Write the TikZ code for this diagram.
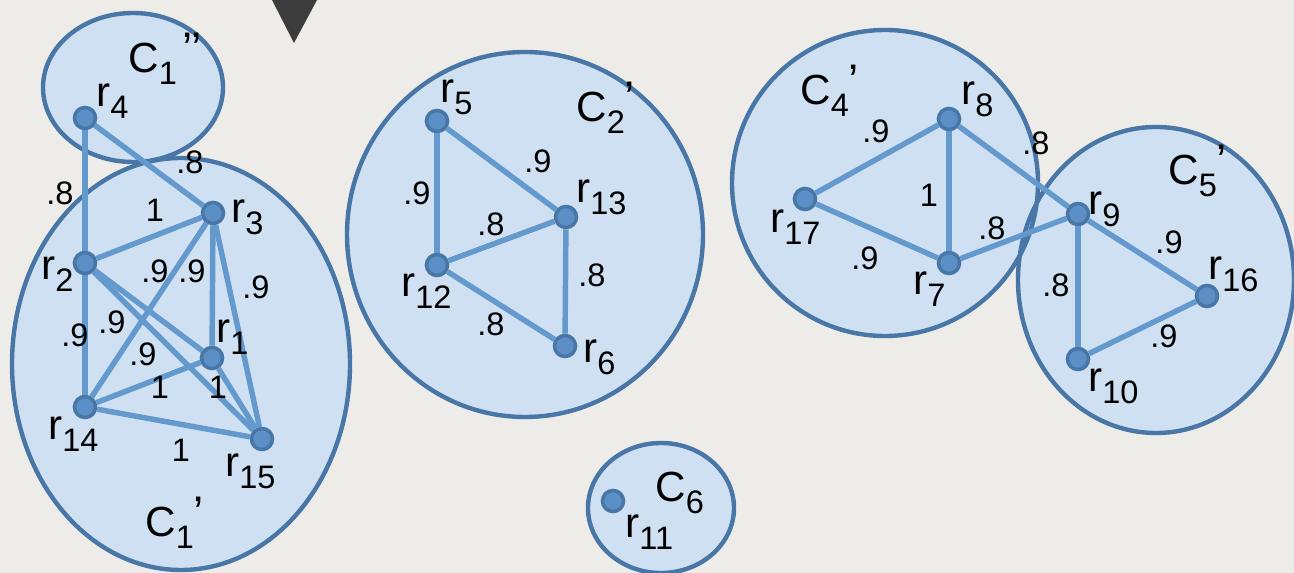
\documentclass[tikz,border=0pt]{standalone}
\usepackage{fontspec}
\setmainfont{Liberation Sans}
\usepackage{xcolor}
\usepackage{tikz}
\usetikzlibrary{positioning}
\definecolor{mypaper}{RGB}{238,236,233}
\definecolor{myfill}{RGB}{207,224,242}
\definecolor{myborder}{RGB}{72,118,166}
\definecolor{myedge}{RGB}{99,153,205}
\definecolor{mydot}{RGB}{91,143,198}
\definecolor{mydark}{RGB}{60,60,60}
\newcommand{\lblfont}{\fontsize{24}{28}\selectfont}
\newcommand{\subfnt}{\fontsize{18.5}{21}\selectfont}
\newcommand{\primefnt}{\fontsize{26}{30}\selectfont}
\newcommand{\wfont}{\fontsize{18.5}{21}\selectfont}
\newcommand{\rlab}[1]{r\raisebox{-6.8pt}{\subfnt #1}}
\newcommand{\clab}[3][0pt]{C\raisebox{-6.8pt}{\subfnt #2}\hspace{#1}\raisebox{5pt}{\primefnt #3}}
\tikzset{
  cluster/.style={fill=myfill},
  clusterline/.style={draw=myborder, line width=2.5pt},
  rdot/.style={circle, fill=mydot, draw=myborder, line width=2pt,
    minimum size=12pt, inner sep=0pt},
  edge/.style={draw=myedge, line width=3.1pt},
  rname/.style={anchor=base west, inner sep=0pt, font=\lblfont},
  cname/.style={anchor=base west, inner sep=0pt, font=\lblfont},
  weight/.style={inner sep=0pt, font=\wfont}
}

\begin{document}
\begin{tikzpicture}[x=0.02cm, y=-0.02cm]
  % Paper
  \useasboundingbox (0,0) rectangle (1294,573);
  \fill[mypaper] (0,0) rectangle (1294,573);
  \fill[mydark] (272,0) -- (317,0) -- (294,43) -- cycle;

  % Clusters (fills first, borders after)
  \fill[cluster] (133,87.5) ellipse [x radius=90, y radius=74.5];
  \fill[cluster] (181,364) ellipse [x radius=169, y radius=206];
  \fill[cluster] (525,234.5) ellipse [x radius=178, y radius=182.5];
  \fill[cluster] (885,183) ellipse [x radius=153, y radius=153];
  \fill[cluster] (1156,280) ellipse [x radius=138, y radius=153];
  \fill[cluster] (661,508) ellipse [x radius=73, y radius=65];
  \draw[clusterline] (133,87.5) ellipse [x radius=90, y radius=74.5];
  \draw[clusterline] (181,364) ellipse [x radius=169, y radius=206];
  \draw[clusterline] (525,234.5) ellipse [x radius=178, y radius=182.5];
  \draw[clusterline] (885,183) ellipse [x radius=153, y radius=153];
  \draw[clusterline] (1156,280) ellipse [x radius=138, y radius=153];
  \draw[clusterline] (661,508) ellipse [x radius=73, y radius=65];

  % Points
  \node[rdot] (r4) at (85,118) {};
  \node[rdot] (r3) at (213,213) {};
  \node[rdot] (r2) at (85,263) {};
  \node[rdot] (r1) at (212,358) {};
  \node[rdot] (r14) at (85,407) {};
  \node[rdot] (r15) at (262,439) {};
  \node[rdot] (r5) at (437,121) {};
  \node[rdot] (r13) at (566,217) {};
  \node[rdot] (r12) at (437,265) {};
  \node[rdot] (r6) at (565,346) {};
  \node[rdot] (r8) at (949,119) {};
  \node[rdot] (r17) at (805,199) {};
  \node[rdot] (r7) at (949,263) {};
  \node[rdot] (r9) at (1078,214) {};
  \node[rdot] (r16) at (1207,296) {};
  \node[rdot] (r10) at (1078,359) {};
  \node[rdot] (r11) at (613,501) {};

  % Similarity links
  \draw[edge] (r4) -- (r2);
  \draw[edge] (r4) -- (r3);
  \draw[edge] (r2) -- (r3);
  \draw[edge] (r2) -- (r14);
  \draw[edge] (r2) -- (r1);
  \draw[edge] (r2) -- (r15);
  \draw[edge] (r3) -- (r14);
  \draw[edge] (r3) -- (r1);
  \draw[edge] (r3) -- (r15);
  \draw[edge] (r14) -- (r1);
  \draw[edge] (r14) -- (r15);
  \draw[edge] (r1) -- (r15);
  \draw[edge] (r5) -- (r12);
  \draw[edge] (r5) -- (r13);
  \draw[edge] (r12) -- (r13);
  \draw[edge] (r13) -- (r6);
  \draw[edge] (r12) -- (r6);
  \draw[edge] (r17) -- (r8);
  \draw[edge] (r17) -- (r7);
  \draw[edge] (r8) -- (r7);
  \draw[edge] (r8) -- (r9);
  \draw[edge] (r7) -- (r9);
  \draw[edge] (r9) -- (r10);
  \draw[edge] (r9) -- (r16);
  \draw[edge] (r10) -- (r16);

  % Point names
  \node[rname] (n4) at (96,107) {\rlab{4}};
  \node[rname] (n3) at (231,223) {\rlab{3}};
  \node[rname] (n2) at (41,280) {\rlab{2}};
  \node[rname] (n1) at (216,343) {\rlab{1}};
  \node[rname] (n14) at (48,440) {\rlab{14}};
  \node[rname] (n15) at (225,477) {\rlab{15}};
  \node[rname] (n5) at (440,103) {\rlab{5}};
  \node[rname] (n13) at (576,203) {\rlab{13}};
  \node[rname] (n12) at (401,297) {\rlab{12}};
  \node[rname] (n6) at (583,363) {\rlab{6}};
  \node[rname] (n8) at (961,105) {\rlab{8}};
  \node[rname] (n17) at (770,233) {\rlab{17}};
  \node[rname] (n7) at (913,295) {\rlab{7}};
  \node[rname] (n9) at (1088,215) {\rlab{9}};
  \node[rname] (n16) at (1208,280) {\rlab{16}};
  \node[rname] (n10) at (1088,392) {\rlab{10}};
  \node[rname] (n11) at (625,538) {\rlab{11}};

  % Cluster names
  \node[cname] (c1b) at (128,73) {\clab[3pt]{1}{’’}};
  \node[cname] (c1a) at (145,537) {\clab{1}{’}};
  \node[cname] (c2) at (576,122) {\clab{2}{’}};
  \node[cname] (c4) at (800,105) {\clab{4}{’}};
  \node[cname] (c5) at (1168,185) {\clab{5}{’}};
  \node[cname] (c6) at (655,502) {\clab{6}{}};

  % Weights
  \node[weight] (w42) at (60,193) {.8};
  \node[weight] (w43) at (190,162) {.8};
  \node[weight] (w23) at (155,210) {1};
  \node[weight] (w21) at (155,271) {.9};
  \node[weight] (w314) at (192,271) {.9};
  \node[weight] (w315) at (256,287) {.9};
  \node[weight] (w214) at (75,335) {.9};
  \node[weight] (w215) at (112,322) {.9};
  \node[weight] (w31) at (143,354) {.9};
  \node[weight] (w141) at (160,387) {1};
  \node[weight] (w115) at (218,387) {1};
  \node[weight] (w1415) at (181,450) {1};
  \node[weight] (w512) at (417,193) {.9};
  \node[weight] (w513) at (538,161) {.9};
  \node[weight] (w1213) at (491,224) {.8};
  \node[weight] (w136) at (592,275) {.8};
  \node[weight] (w126) at (491,324) {.8};
  \node[weight] (w178) at (876,131) {.9};
  \node[weight] (w87) at (929,195) {1};
  \node[weight] (w79) at (992,228) {.8};
  \node[weight] (w177) at (865,258) {.9};
  \node[weight] (w89) at (1036,143) {.8};
  \node[weight] (w916) at (1169,242) {.9};
  \node[weight] (w910) at (1056,285) {.8};
  \node[weight] (w1016) at (1164,336) {.9};
\end{tikzpicture}
\end{document}
